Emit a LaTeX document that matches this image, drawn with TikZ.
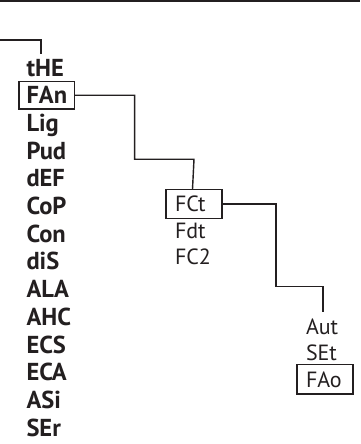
\documentclass[tikz,border=0pt]{standalone}
\usepackage{fontspec}
\setmainfont{PT Sans}
\usetikzlibrary{positioning,calc}
\definecolor{ink}{HTML}{231F20}
\tikzset{under/.style={below=0pt of #1.south west, anchor=north west},
         nextsub/.style={below=-3pt of #1.south west, anchor=north west}}

\begin{document}
\begin{tikzpicture}[x=1pt, y=-1pt, color=ink, line width=1.4pt]
\tikzstyle{menu}=[inner xsep=7.5pt, inner ysep=5.35pt, outer sep=0pt, text height=17pt, text depth=0pt, font=\fontsize{24.5}{25}\selectfont\bfseries]
\tikzstyle{sub}=[inner xsep=9pt, inner ysep=7pt, outer sep=0pt, text width=38pt, align=left, text height=15.5pt, text depth=0pt, font=\fontsize{22}{23}\selectfont]
\tikzstyle{sel}=[draw=ink, line width=1.3pt]
\useasboundingbox (0,0) rectangle (360,444);
\draw[line width=2.5pt] (0,1.25) -- (360,1.25);
% main menu
\node[menu, anchor=base west] (the) at (19,76) {tHE};
\node[menu, sel, under=the] (fan) {FAn};
\node[menu, under=fan]  (lig) {Lig};
\node[menu, under=lig]  (pud) {Pud};
\node[menu, under=pud]  (def) {dEF};
\node[menu, under=def]  (cop) {CoP};
\node[menu, under=cop]  (con) {Con};
\node[menu, under=con]  (dis) {diS};
\node[menu, under=dis]  (ala) {ALA};
\node[menu, under=ala]  (ahc) {AHC};
\node[menu, under=ahc]  (ecs) {ECS};
\node[menu, under=ecs]  (eca) {ECA};
\node[menu, under=eca]  (asi) {ASi};
\node[menu, under=asi]  (ser) {SEr};
% fan submenu
\node[sub, sel, anchor=base west] (fct) at (166,211.7) {FCt};
\node[sub, nextsub=fct] (fdt) {Fdt};
\node[sub, nextsub=fdt] (fc2) {FC2};
% fct submenu
\node[sub, anchor=base west] (aut) at (297,334) {Aut};
\node[sub, nextsub=aut] (set) {SEt};
\node[sub, sel, nextsub=set] (fao) {FAo};
% connectors
\coordinate (feed) at (0,40);
\draw (feed) -| ([xshift=-4pt]the.north);
\draw (fan.east) -- ++(60,0) |- ($(fct.north)+(0,-30)$) -- ([xshift=-1.5pt]fct.north);
\draw (fct.east) -- ++(54,0) |- ($(aut.north)+(-2,-25)$) -- ([xshift=-2pt]aut.north);
\end{tikzpicture}
\end{document}
